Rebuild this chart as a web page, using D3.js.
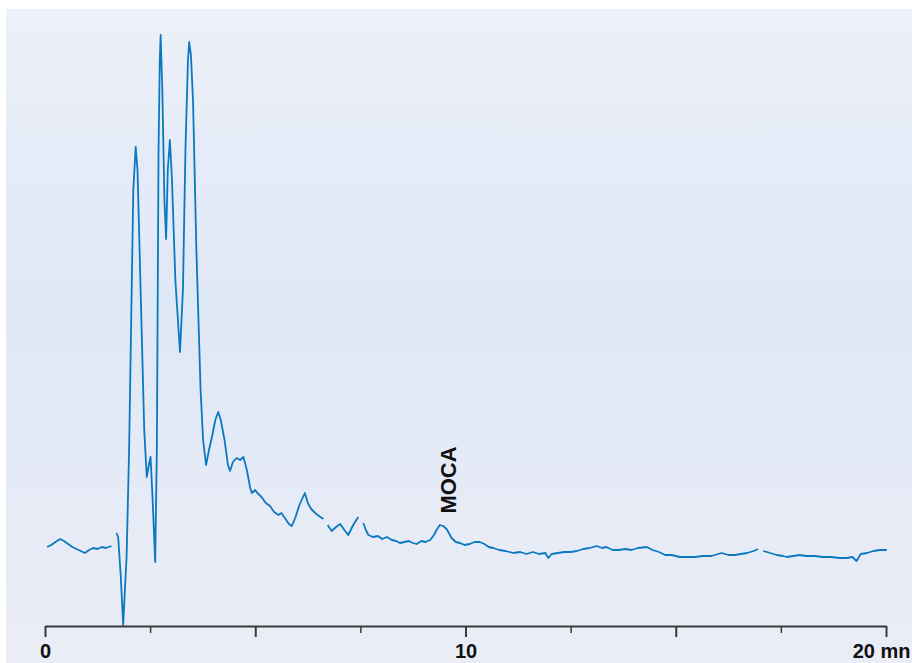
<!DOCTYPE html>
<html>
<head>
<meta charset="utf-8">
<script src="https://cdn.jsdelivr.net/npm/d3@7"></script>
<style>
  html, body { margin: 0; padding: 0; background: #fff; }
  svg { display: block; }
</style>
</head>
<body>
<svg id="chart" width="912" height="663"></svg>
<script>
// retention time (min) and detector signal; null = gap in the trace
const times = [
  0.05, 0.15, 0.25, 0.36, 0.45, 0.55, 0.65, 0.75, 0.85, 0.95, 1.05, 1.15, 1.25, 1.35, 1.45, 1.58, 1.64,
  1.70, 1.74, 1.80, 1.86, 1.90, 1.94, 2.00, 2.05, 2.10, 2.157, 2.20, 2.28, 2.36, 2.42, 2.47, 2.51, 2.56, 2.62,
  2.66, 2.70, 2.73, 2.75, 2.79, 2.84, 2.88, 2.92, 2.97, 3.02, 3.10, 3.21, 3.28, 3.34, 3.40, 3.43, 3.47, 3.52,
  3.60, 3.70, 3.76, 3.83, 3.90, 3.98, 4.05, 4.12, 4.18, 4.27, 4.35, 4.40, 4.47, 4.56, 4.64, 4.72, 4.80, 4.88,
  4.92, 5.00, 5.05, 5.15, 5.25, 5.35, 5.45, 5.55, 5.62, 5.72, 5.80, 5.87, 5.95, 6.05, 6.18, 6.25, 6.33, 6.45,
  6.55, 6.62, 6.66, 6.72, 6.82, 6.92, 7.02, 7.12, 7.21, 7.33, 7.45, 7.51, 7.57, 7.63, 7.69, 7.80, 7.92, 8.02,
  8.13, 8.25, 8.35, 8.44, 8.55, 8.65, 8.75, 8.84, 8.95, 9.05, 9.16, 9.25, 9.31, 9.39, 9.47, 9.55, 9.67, 9.77,
  9.87, 9.98, 10.10, 10.22, 10.34, 10.45, 10.55, 10.66, 10.80, 10.95, 11.14, 11.30, 11.45, 11.60, 11.75, 11.90,
  11.97, 12.05, 12.20, 12.35, 12.50, 12.65, 12.80, 12.95, 13.12, 13.25, 13.35, 13.50, 13.65, 13.80, 13.95, 14.10,
  14.31, 14.45, 14.60, 14.75, 14.90, 15.10, 15.25, 15.45, 15.65, 15.85, 16.09, 16.25, 16.40, 16.55, 16.70, 16.85,
  16.96, 17.02, 17.08, 17.25, 17.40, 17.55, 17.64, 17.80, 17.95, 18.10, 18.30, 18.50, 18.70, 18.90, 19.06, 19.20,
  19.30, 19.40, 19.55, 19.70, 19.86, 20.02
];
const signal = [
  79, 81, 84, 87, 85, 82, 79, 77, 75, 73, 76, 78, 77, 79, 78, 80, null,
  93, 89, 51, 1, 36, 69, 176, 306, 436, 479, 456, 326, 196, 149, 161, 169, 126, 64,
  176, 476, 566, 591, 536, 426, 387, 456, 486, 446, 346, 274, 336, 476, 566, 584, 571, 526,
  376, 236, 186, 161, 176, 191, 206, 214, 206, 186, 161, 155, 164, 168, 166, 169, 156, 138,
  133, 136, 133, 129, 123, 120, 114, 111, 113, 107, 102, 100, 108, 121, 133, 123, 117, 112,
  109, 107, null, 101, 95, 99, 102, 96, 91, 101, 109, null, 103, 96, 91, 89, 90, 87,
  89, 86, 85, 83, 84, 85, 83, 82, 85, 84, 86, 91, 96, 101, 100, 97, 88, 84,
  83, 81, 82, 84, 84, 82, 79, 78, 76, 75, 73, 74, 72, 74, 72, 73,
  68, 72, 73, 74, 74, 75, 77, 78, 80, 78, 79, 76, 76, 77, 76, 78,
  79, 76, 74, 71, 71, 69, 69, 69, 70, 70, 73, 71, 71, 72, 73, 75,
  77, null, 75, 73, 71, 70, 69, 70, 71, 70, 70, 69, 69, 68, 68, 69,
  65, 72, 73, 75, 76, 76
];
const tickValues = [0, 2.5, 5, 7.5, 10, 12.5, 15, 17.5, 20];
const majorTicks = [0, 5, 10, 15, 20];
const tickLabels = { 0: "0", 10: "10", 20: "20 mn" };
const peakName = "MOCA";
const peakTime = 9.39;
const peakSignal = 101;

const svg = d3.select("#chart");
const width = 912, height = 663;

// panel background
const defs = svg.append("defs");
const grad = defs.append("linearGradient")
  .attr("id", "bg").attr("x1", 0).attr("y1", 0).attr("x2", 0).attr("y2", 1);
grad.append("stop").attr("offset", "0%").attr("stop-color", "#ecf0f8");
grad.append("stop").attr("offset", "45%").attr("stop-color", "#dfe8f6");
grad.append("stop").attr("offset", "100%").attr("stop-color", "#ebedf6");

svg.append("rect")
  .attr("x", 6).attr("y", 9)
  .attr("width", width - 6).attr("height", height - 9)
  .attr("fill", "url(#bg)");

const x = d3.scaleLinear().domain([0, 20]).range([45, 886]);
const y = d3.scaleLinear().domain([0, 600]).range([626, 26]);

const data = times.map((t, i) => ({ t, v: signal[i] }));

const line = d3.line()
  .defined(d => d.v !== null)
  .x(d => x(d.t))
  .y(d => y(d.v));

svg.append("path")
  .datum(data)
  .attr("fill", "none")
  .attr("stroke", "#0b78c0")
  .attr("stroke-width", 1.8)
  .attr("stroke-linejoin", "round")
  .attr("d", line);

// axis
const axis = svg.append("g")
  .attr("transform", `translate(0,${y(0)})`)
  .call(d3.axisBottom(x)
    .tickValues(tickValues)
    .tickSizeOuter(0)
    .tickFormat(d => tickLabels[d] || ""));

axis.select(".domain").attr("stroke", "#3a3a3a").attr("stroke-width", 2);
axis.selectAll(".tick line")
  .attr("stroke", "#3a3a3a")
  .attr("stroke-width", d => majorTicks.includes(d) ? 2 : 1.5)
  .attr("y2", d => majorTicks.includes(d) ? 11 : 7);
axis.selectAll(".tick text")
  .attr("y", 32)
  .attr("dy", 0)
  .attr("fill", "#111")
  .style("font-family", "'Liberation Sans', Arial, sans-serif")
  .style("font-size", "20px")
  .style("font-weight", "bold")
  .attr("text-anchor", d => d === 20 ? "end" : "middle")
  .attr("x", d => d === 20 ? 24 : 0);

// peak label
svg.append("text")
  .attr("transform", `translate(${x(peakTime) + 16},${y(peakSignal) - 45}) rotate(-90)`)
  .attr("text-anchor", "middle")
  .attr("fill", "#111")
  .style("font-family", "'Liberation Sans', Arial, sans-serif")
  .style("font-size", "22px")
  .style("font-weight", "bold")
  .text(peakName);
</script>
</body>
</html>
